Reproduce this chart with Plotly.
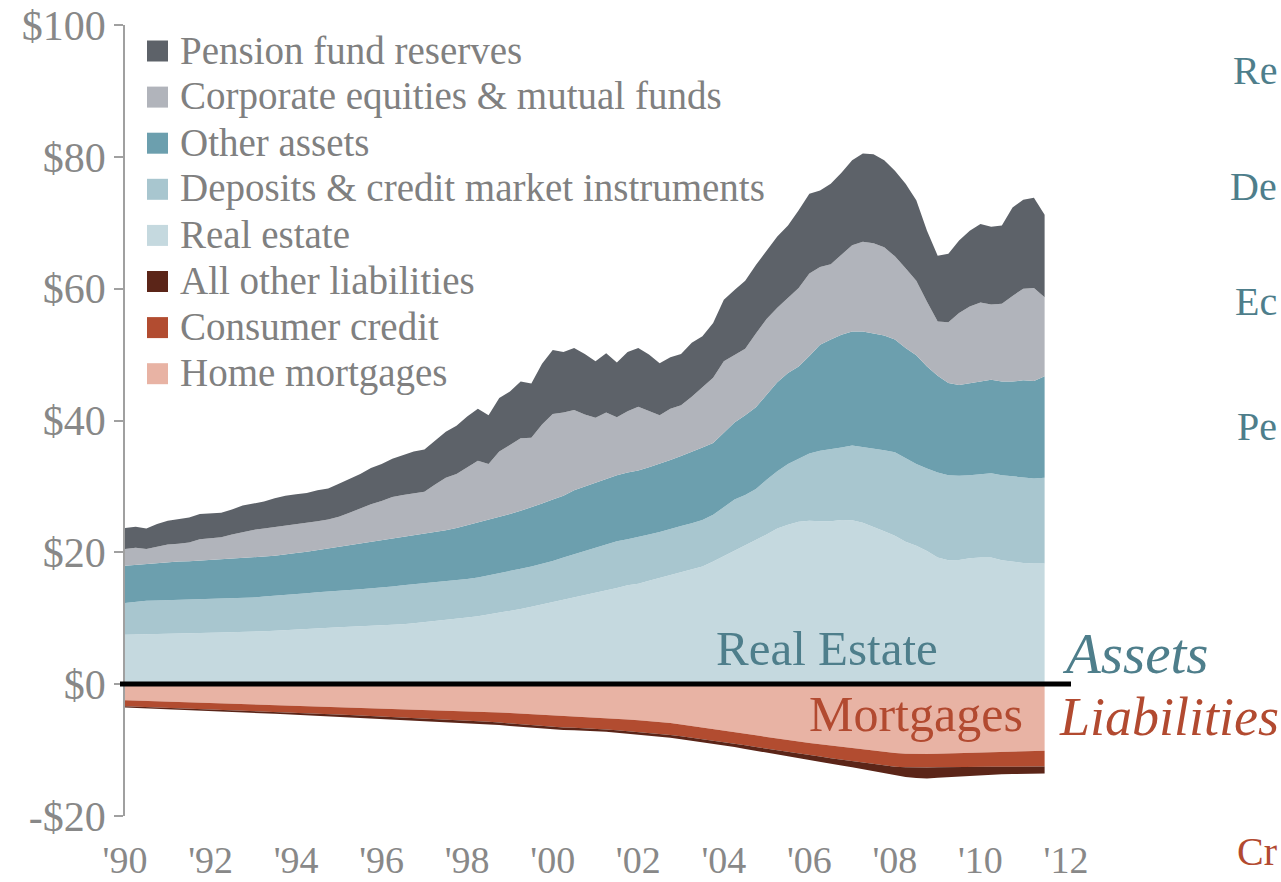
import plotly.graph_objects as go
import numpy as np

# Quarterly observations, 1990Q1 .. 2011Q3 (trillions of dollars)
quarters = [1990 + 0.25 * i for i in range(87)]

# Upper edge of each asset band (cumulative levels)
top_real_estate = [
    7.5, 7.55, 7.6, 7.62, 7.65, 7.68, 7.72, 7.76, 7.8, 7.83, 7.86, 7.9,
    7.95, 8.03, 8.12, 8.22, 8.3, 8.38, 8.46, 8.55, 8.62, 8.7, 8.76, 8.82,
    8.9, 8.98, 9.1, 9.25, 9.4, 9.55, 9.72, 9.9, 10.1, 10.3, 10.55, 10.85,
    11.1, 11.4, 11.75, 12.1, 12.4, 12.75, 13.1, 13.5, 13.85, 14.15, 14.6, 15.0,
    15.25, 15.7, 16.15, 16.6, 17.0, 17.4, 17.85, 18.6, 19.4, 20.2, 21.0, 21.8,
    22.7, 23.6, 24.2, 24.65, 24.8, 24.7, 24.7, 24.9, 24.85, 24.5, 23.9, 23.2,
    22.5, 21.6, 21.0, 20.2, 19.2, 18.8, 18.85, 19.1, 19.2, 19.2, 18.8, 18.55,
    18.4, 18.3, 18.3]
top_deposits = [
    12.3, 12.5, 12.65, 12.7, 12.75, 12.8, 12.82, 12.85, 12.88, 12.92, 13.0, 13.05,
    13.15, 13.3, 13.4, 13.55, 13.7, 13.8, 13.95, 14.1, 14.2, 14.3, 14.4, 14.5,
    14.65, 14.8, 15.0, 15.15, 15.3, 15.45, 15.6, 15.8, 15.95, 16.2, 16.5, 16.85,
    17.2, 17.5, 17.85, 18.25, 18.7, 19.2, 19.7, 20.2, 20.8, 21.3, 21.7, 22.0,
    22.3, 22.7, 23.1, 23.6, 24.0, 24.4, 24.9, 25.7, 26.9, 28.0, 28.7, 29.6,
    31.0, 32.3, 33.4, 34.2, 35.0, 35.4, 35.6, 35.9, 36.2, 36.0, 35.8, 35.5,
    35.2, 34.3, 33.4, 32.7, 32.1, 31.7, 31.6, 31.7, 31.9, 32.0, 31.7, 31.5,
    31.4, 31.2, 31.3]
top_other_assets = [
    17.95, 18.1, 18.25, 18.4, 18.5, 18.6, 18.65, 18.75, 18.8, 18.9, 18.95, 19.05,
    19.15, 19.35, 19.5, 19.65, 19.9, 20.1, 20.35, 20.6, 20.8, 21.0, 21.3, 21.6,
    21.8, 22.0, 22.3, 22.5, 22.8, 23.0, 23.35, 23.7, 24.1, 24.5, 24.9, 25.3,
    25.8, 26.3, 26.8, 27.4, 28.0, 28.6, 29.4, 30.0, 30.6, 31.2, 31.7, 32.1,
    32.4, 32.9, 33.4, 34.0, 34.6, 35.2, 35.9, 36.6, 38.1, 39.7, 40.8, 42.0,
    43.9, 45.8, 47.2, 48.2, 49.8, 51.5, 52.3, 53.0, 53.5, 53.5, 53.2, 52.9,
    52.3, 51.0, 49.9, 48.2, 46.8, 45.7, 45.4, 45.6, 45.9, 46.2, 45.9, 45.9,
    46.1, 46.0, 46.7]
top_equities = [
    20.5, 20.7, 20.5, 20.9, 21.2, 21.3, 21.5, 22.0, 22.2, 22.3, 22.7, 23.1,
    23.4, 23.6, 23.8, 24.1, 24.2, 24.4, 24.7, 25.0, 25.4, 26.0, 26.7, 27.3,
    27.8, 28.4, 28.7, 29.0, 29.2, 30.3, 31.3, 31.9, 32.9, 33.9, 33.4, 35.3,
    36.3, 37.3, 37.4, 39.4, 41.0, 41.2, 41.6, 40.9, 40.4, 41.2, 40.5, 41.4,
    42.1, 41.5, 40.8, 41.8, 42.3, 43.6, 45.0, 46.5, 49.0, 50.0, 50.9, 53.2,
    55.4, 57.1, 58.6, 60.1, 62.3, 63.3, 63.7, 65.2, 66.6, 67.1, 66.9, 66.3,
    64.9, 63.1, 61.2, 58.0, 55.0, 54.9, 56.3, 57.3, 57.9, 57.6, 57.7, 58.9,
    60.0, 60.1, 58.7]
total_assets = [
    23.7, 23.9, 23.6, 24.3, 24.8, 25.0, 25.3, 25.8, 25.9, 26.0, 26.5, 27.1,
    27.4, 27.7, 28.2, 28.6, 28.8, 29.0, 29.4, 29.7, 30.4, 31.1, 31.9, 32.8,
    33.4, 34.2, 34.8, 35.3, 35.6, 37.0, 38.3, 39.2, 40.6, 41.8, 40.8, 43.4,
    44.4, 45.9, 45.6, 48.6, 50.7, 50.4, 51.0, 50.1, 49.0, 50.2, 48.8, 50.4,
    51.0, 50.0, 48.7, 49.6, 50.1, 51.8, 52.8, 54.8, 58.3, 59.8, 61.2, 63.6,
    65.7, 67.9, 69.6, 71.9, 74.4, 74.9, 75.9, 77.6, 79.5, 80.5, 80.4, 79.5,
    77.9, 75.9, 73.4, 68.8, 65.0, 65.3, 67.3, 68.8, 69.8, 69.4, 69.6, 72.3,
    73.5, 73.8, 71.2]

# Lower edge of each liability band (cumulative, negative)
bottom_mortgages = [
    -2.45, -2.50, -2.55, -2.60, -2.65, -2.70, -2.75, -2.80, -2.86, -2.92, -2.97, -3.03,
    -3.08, -3.14, -3.20, -3.26, -3.32, -3.38, -3.44, -3.48, -3.52, -3.56, -3.60, -3.64,
    -3.68, -3.72, -3.77, -3.81, -3.85, -3.91, -3.97, -4.03, -4.09, -4.15, -4.21, -4.30,
    -4.38, -4.46, -4.54, -4.62, -4.70, -4.78, -4.86, -4.94, -5.02, -5.13, -5.24, -5.35,
    -5.46, -5.58, -5.70, -5.90, -6.10, -6.32, -6.55, -6.78, -7.00, -7.25, -7.50, -7.75,
    -8.00, -8.25, -8.50, -8.72, -8.93, -9.13, -9.33, -9.52, -9.70, -9.90, -10.10, -10.30,
    -10.45, -10.55, -10.60, -10.60, -10.55, -10.50, -10.45, -10.40, -10.35, -10.30, -10.26, -10.22,
    -10.18, -10.14, -10.10]
bottom_consumer = [
    -3.34, -3.40, -3.45, -3.51, -3.56, -3.62, -3.67, -3.72, -3.78, -3.84, -3.91, -3.98,
    -4.05, -4.12, -4.19, -4.26, -4.33, -4.39, -4.45, -4.53, -4.61, -4.68, -4.76, -4.83,
    -4.91, -4.98, -5.05, -5.13, -5.20, -5.28, -5.37, -5.45, -5.53, -5.62, -5.70, -5.83,
    -5.97, -6.10, -6.23, -6.37, -6.50, -6.56, -6.62, -6.68, -6.75, -6.87, -6.99, -7.11,
    -7.23, -7.37, -7.50, -7.70, -7.90, -8.12, -8.33, -8.54, -8.75, -9.01, -9.27, -9.53,
    -9.79, -10.05, -10.30, -10.53, -10.76, -10.99, -11.22, -11.45, -11.68, -11.90, -12.12, -12.35,
    -12.52, -12.60, -12.65, -12.65, -12.62, -12.58, -12.55, -12.54, -12.53, -12.52, -12.52, -12.51,
    -12.50, -12.50, -12.50]
total_liabilities = [
    -3.54, -3.60, -3.66, -3.72, -3.79, -3.85, -3.91, -3.97, -4.04, -4.10, -4.18, -4.26,
    -4.34, -4.42, -4.50, -4.58, -4.66, -4.73, -4.80, -4.88, -4.96, -5.04, -5.12, -5.19,
    -5.27, -5.34, -5.42, -5.49, -5.56, -5.64, -5.73, -5.81, -5.90, -5.98, -6.07, -6.21,
    -6.35, -6.49, -6.62, -6.76, -6.90, -6.95, -7.00, -7.05, -7.10, -7.23, -7.36, -7.50,
    -7.63, -7.76, -7.90, -8.12, -8.35, -8.58, -8.80, -9.03, -9.25, -9.54, -9.83, -10.12,
    -10.41, -10.70, -11.00, -11.27, -11.54, -11.81, -12.08, -12.35, -12.62, -12.90, -13.20, -13.50,
    -13.80, -14.10, -14.25, -14.30, -14.20, -14.10, -14.00, -13.90, -13.80, -13.70, -13.66, -13.63,
    -13.60, -13.57, -13.55]

tick_years = [1990, 1992, 1994, 1996, 1998, 2000, 2002, 2004, 2006, 2008, 2010, 2012]
tick_year_labels = ["'90", "'92", "'94", "'96", "'98", "'00", "'02", "'04", "'06", "'08", "'10", "'12"]
y_ticks = [-20, 0, 20, 40, 60, 80, 100]
y_tick_labels = ["-$20", "$0", "$20", "$40", "$60", "$80", "$100"]

# Band sizes derived from the edges
real_estate = np.array(top_real_estate)
deposits = np.array(top_deposits) - np.array(top_real_estate)
other_assets = np.array(top_other_assets) - np.array(top_deposits)
equities = np.array(top_equities) - np.array(top_other_assets)
pension = np.array(total_assets) - np.array(top_equities)
mortgages = np.array(bottom_mortgages)
consumer = np.array(bottom_consumer) - np.array(bottom_mortgages)
other_liab = np.array(total_liabilities) - np.array(bottom_consumer)

series = [
    ("Real estate", real_estate, "#c5d9df", "assets"),
    ("Deposits & credit market instruments", deposits, "#a8c6cf", "assets"),
    ("Other assets", other_assets, "#6c9fae", "assets"),
    ("Corporate equities & mutual funds", equities, "#b1b4bb", "assets"),
    ("Pension fund reserves", pension, "#5d6269", "assets"),
    ("Home mortgages", mortgages, "#e8b3a4", "liab"),
    ("Consumer credit", consumer, "#b24c30", "liab"),
    ("All other liabilities", other_liab, "#5b2518", "liab"),
]

FONT = "Liberation Serif, Times New Roman, serif"
fig = go.Figure()
for name, vals, color, grp in series:
    fig.add_trace(go.Scatter(
        x=quarters, y=vals, name=name, stackgroup=grp, mode="lines",
        line=dict(width=0, color=color), fillcolor=color, showlegend=False,
    ))

# pixel helpers for the 1281x882 canvas
L, R, T, B = 125, 1066, 25, 816
def px(x):
    return (x - L) / (R - L)
def py(y):
    return (B - y) / (B - T)

shapes = []
annotations = []

# heavy zero line
shapes.append(dict(type="line", xref="paper", yref="paper", x0=px(120), x1=px(1071),
                   y0=py(684), y1=py(684), line=dict(color="black", width=5)))

# legend (squares + labels)
legend_items = [
    ("Pension fund reserves", "#5d6269"),
    ("Corporate equities & mutual funds", "#b1b4bb"),
    ("Other assets", "#6c9fae"),
    ("Deposits & credit market instruments", "#a8c6cf"),
    ("Real estate", "#c5d9df"),
    ("All other liabilities", "#5b2518"),
    ("Consumer credit", "#b24c30"),
    ("Home mortgages", "#e8b3a4"),
]
for k, (label, color) in enumerate(legend_items):
    cy = 51 + 46.1 * k
    shapes.append(dict(type="rect", xref="paper", yref="paper",
                       x0=px(147), x1=px(168), y0=py(cy + 10.5), y1=py(cy - 10.5),
                       fillcolor=color, line=dict(width=0)))
    annotations.append(dict(text=label, xref="paper", yref="paper", x=px(178), y=py(cy - 1),
                            xanchor="left", yanchor="middle", showarrow=False,
                            font=dict(family=FONT, size=39, color="#808080")))

teal = "#4e7e8b"
red = "#b24a30"
annotations += [
    dict(text="Real Estate", x=px(827), y=py(648), font=dict(family=FONT, size=49, color=teal)),
    dict(text="Mortgages", x=px(916), y=py(714), font=dict(family=FONT, size=50, color=red)),
    dict(text="<i>Assets</i>", x=px(1060), y=py(653), xanchor="left", font=dict(family=FONT, size=57, color=teal)),
    dict(text="<i>Liabilities</i>", x=px(1057), y=py(717), xanchor="left", font=dict(family=FONT, size=54, color=red)),
    dict(text="Re", x=px(1279), y=py(70), xanchor="right", font=dict(family=FONT, size=40, color=teal)),
    dict(text="De", x=px(1279), y=py(186), xanchor="right", font=dict(family=FONT, size=40, color=teal)),
    dict(text="Ec", x=px(1279), y=py(302), xanchor="right", font=dict(family=FONT, size=40, color=teal)),
    dict(text="Pe", x=px(1279), y=py(426), xanchor="right", font=dict(family=FONT, size=40, color=teal)),
    dict(text="Cr", x=px(1279), y=py(851), xanchor="right", font=dict(family=FONT, size=40, color=red)),
]
for a in annotations[len(legend_items):]:
    a.setdefault("xref", "paper")
    a.setdefault("yref", "paper")
    a.setdefault("xanchor", "center")
    a.setdefault("yanchor", "middle")
    a.setdefault("showarrow", False)

fig.update_layout(
    width=1281, height=882,
    margin=dict(l=L, r=1281 - R, t=T, b=882 - B, autoexpand=False),
    paper_bgcolor="white", plot_bgcolor="white",
    font=dict(family=FONT, color="#888888"),
    showlegend=False,
    shapes=shapes, annotations=annotations,
    xaxis=dict(range=[1990, 2012], tickvals=tick_years, ticktext=tick_year_labels,
               showgrid=False, zeroline=False, showline=False, ticks="",
               tickfont=dict(family=FONT, size=38, color="#888888"),
               ticklabelstandoff=18, automargin=False),
    yaxis=dict(range=[-20, 100], tickvals=y_ticks, ticktext=y_tick_labels,
               showgrid=False, zeroline=False, showline=True, linecolor="#a0a0a0",
               linewidth=1.5, ticks="outside", ticklen=9, tickwidth=1.5, tickcolor="#a0a0a0",
               tickfont=dict(family=FONT, size=42, color="#888888"), automargin=False),
)

fig.write_html("out.html", config={"displayModeBar": False},
               post_script="document.body.style.margin='0px';")
